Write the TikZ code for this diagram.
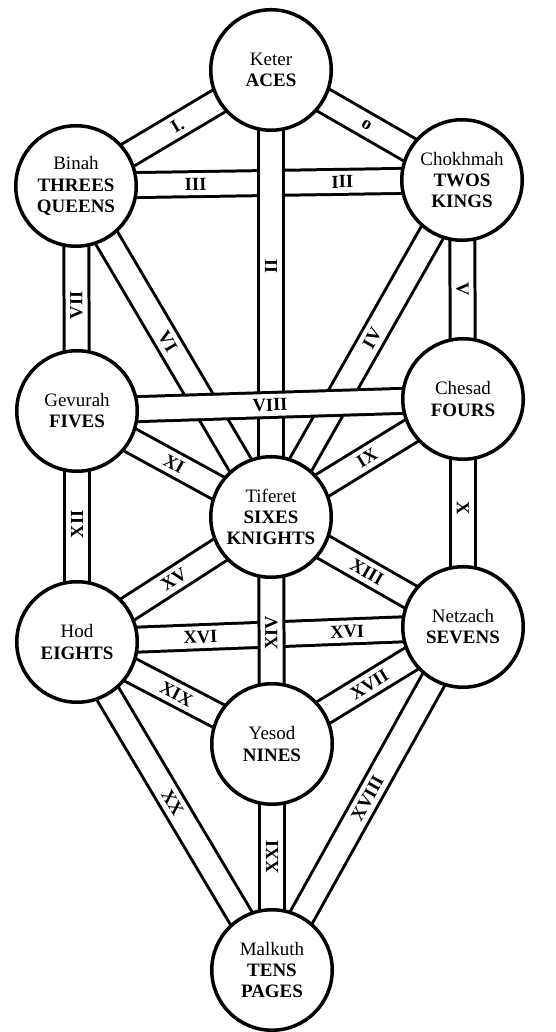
\documentclass[tikz,border=0pt]{standalone}
\usepackage{fontspec}
\setmainfont{Liberation Serif}
\usetikzlibrary{backgrounds}
\tikzset{
  sephira/.style={
    draw=black,
    shape=circle,
    line width=2pt,
    fill=white,
    align=center,
    inner sep=0pt,
    minimum size=2.41cm,
    font=\fontsize{10.8}{12}\selectfont
  },
  mypath/.style={
    draw=black,
    line width=1.7pt,
    double=white,
    double distance=0.44cm,
  },
  mylabel/.style={
    inner sep=1pt,
    font=\bfseries\fontsize{10.5}{12}\selectfont
  },
}

\begin{document}
\begin{tikzpicture}
  \useasboundingbox (0,0) rectangle (11.1,20.64);
  % the ten circles
  \node[sephira] (keter)    at (5.42,19.24) {Keter\\\textbf{ACES}};
  \node[sephira] (binah)    at (1.52,16.92) {Binah\\\textbf{THREES}\\\textbf{QUEENS}};
  \node[sephira] (chokhmah) at (9.24,17.04) {Chokhmah\\\textbf{TWOS}\\\textbf{KINGS}};
  \node[sephira] (gevurah)  at (1.54,12.42) {Gevurah\\\textbf{FIVES}};
  \node[sephira] (chesad)   at (9.26,12.66) {Chesad\\\textbf{FOURS}};
  \node[sephira] (tiferet)  at (5.42,10.30) {Tiferet\\\textbf{SIXES}\\\textbf{KNIGHTS}};
  \node[sephira] (hod)      at (1.54,7.80)  {Hod\\\textbf{EIGHTS}};
  \node[sephira] (netzach)  at (9.26,8.10)  {Netzach\\\textbf{SEVENS}};
  \node[sephira] (yesod)    at (5.44,5.76)  {Yesod\\\textbf{NINES}};
  \node[sephira] (malkuth)  at (5.44,1.24)  {Malkuth\\\textbf{TENS}\\\textbf{PAGES}};

  % paths behind the circles, later ones cross over earlier ones
  \begin{scope}[on background layer]
    \draw[mypath] (binah.center) -- node[mylabel,sloped,pos=.52] {I.} (keter.center);
    \draw[mypath] (keter.center) -- node[mylabel,sloped,pos=.50] {o} (chokhmah.center);
    \draw[mypath] (binah.center) -- node[mylabel,sloped,pos=.31] {III}
                                    node[mylabel,sloped,pos=.69] {III} (chokhmah.center);
    \draw[mypath] (keter.center) -- node[mylabel,rotate=90,pos=.44] {II} (tiferet.center);
    \draw[mypath] (binah.center) -- node[mylabel,rotate=90,pos=.53] {VII} (gevurah.center);
    \draw[mypath] (chokhmah.center) -- node[mylabel,rotate=-90,pos=.50] {V} (chesad.center);
    \draw[mypath] (binah.center) -- node[mylabel,sloped,pos=.47] {VI} (tiferet.center);
    \draw[mypath] (tiferet.center) -- node[mylabel,sloped,pos=.53] {IV} (chokhmah.center);
    \draw[mypath] (gevurah.center) -- node[mylabel,sloped,pos=.50] {VIII} (chesad.center);
    \draw[mypath] (gevurah.center) -- node[mylabel,sloped,pos=.50] {XI} (tiferet.center);
    \draw[mypath] (tiferet.center) -- node[mylabel,sloped,pos=.50] {IX} (chesad.center);
    \draw[mypath] (gevurah.center) -- node[mylabel,rotate=90,pos=.49] {XII} (hod.center);
    \draw[mypath] (chesad.center) -- node[mylabel,rotate=-90,pos=.48] {X} (netzach.center);
    \draw[mypath] (hod.center) -- node[mylabel,sloped,pos=.50] {XV} (tiferet.center);
    \draw[mypath] (tiferet.center) -- node[mylabel,sloped,pos=.50] {XIII} (netzach.center);
    \draw[mypath] (hod.center) -- node[mylabel,sloped,pos=.32] {XVI}
                                  node[mylabel,sloped,pos=.70] {XVI} (netzach.center);
    \draw[mypath] (tiferet.center) -- node[mylabel,rotate=90,pos=.51] {XIV} (yesod.center);
    \draw[mypath] (hod.center) -- node[mylabel,sloped,pos=.51] {XIX} (yesod.center);
    \draw[mypath] (yesod.center) -- node[mylabel,sloped,pos=.51] {XVII} (netzach.center);
    \draw[mypath] (hod.center) -- node[mylabel,sloped,pos=.49] {XX} (malkuth.center);
    \draw[mypath] (yesod.center) -- node[mylabel,rotate=90,pos=.50] {XXI} (malkuth.center);
    \draw[mypath] (malkuth.center) -- node[mylabel,sloped,pos=.50] {XVIII} (netzach.center);
  \end{scope}
\end{tikzpicture}
\end{document}
